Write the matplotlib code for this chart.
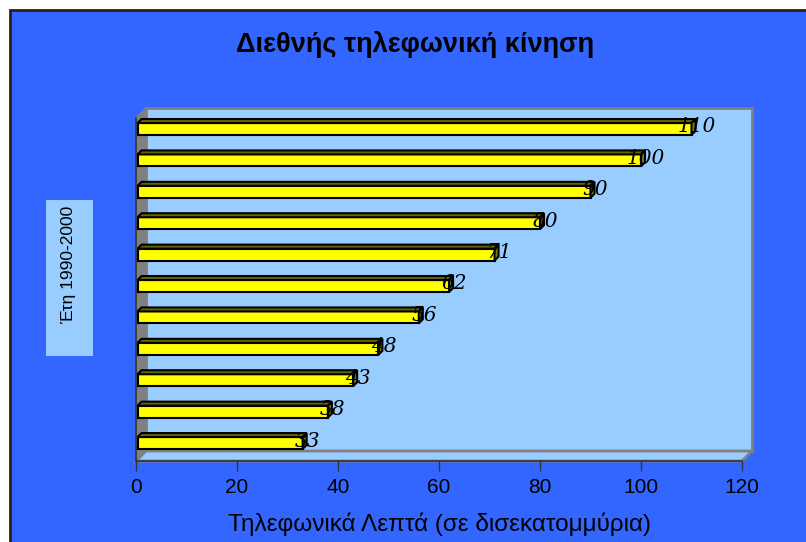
import matplotlib
matplotlib.use("Agg")
import matplotlib.pyplot as plt
from matplotlib.patches import Rectangle, Polygon

years = ["1990", "1991", "1992", "1993", "1994", "1995", "1996", "1997", "1998", "1999", "2000"]
minutes = [33, 38, 43, 48, 56, 62, 71, 80, 90, 100, 110]
xticks = [0, 20, 40, 60, 80, 100, 120]

W, H = 806, 542
DEPTH = 10      # wall depth in pixels
BAR_D = 4       # bar depth in pixels
BAR_H = 0.38    # bar height in category units

blue = "#3366FF"
wall = "#99CCFF"
grey = "#808080"

fig = plt.figure(figsize=(W / 100, H / 100), dpi=100)
fig.patch.set_facecolor("white")

# blue chart area with a dark frame on top and left
fig.patches.append(Rectangle((10 / W, -0.02), 1.1, 1 - 10 / H + 0.02, transform=fig.transFigure,
                             facecolor=blue, edgecolor="#222222", linewidth=2, zorder=-5))

ax = fig.add_axes([136 / W, 1 - 461 / H, 606 / W, 343 / H])
ax.set_facecolor("none")
ax.set_xlim(0, 120)
ax.set_ylim(-0.573, 10.35)


def px(x, y, dx=0, dy=0):
    X, Y = ax.transData.transform((x, y))
    return (X + dx, Y + dy)


def face(pts, fc, ec, lw, z):
    ax.add_patch(Polygon(pts, closed=True, transform=None, facecolor=fc, edgecolor=ec,
                         linewidth=lw, zorder=z, clip_on=False))


y0, y1 = ax.get_ylim()
# back wall, left wall and floor
face([px(0, y0, DEPTH, DEPTH), px(120, y0, DEPTH, DEPTH), px(120, y1, DEPTH, DEPTH), px(0, y1, DEPTH, DEPTH)],
     wall, grey, 2, 1)
face([px(0, y0), px(0, y0, DEPTH, DEPTH), px(0, y1, DEPTH, DEPTH), px(0, y1)], grey, grey, 1, 1.5)
face([px(0, y0), px(120, y0), px(120, y0, DEPTH, DEPTH), px(0, y0, DEPTH, DEPTH)], wall, grey, 2, 1.5)

# 3d bars
for i, v in enumerate(minutes):
    b, t = i - BAR_H / 2, i + BAR_H / 2
    ax.add_patch(Rectangle((0.3, b), v - 0.3, BAR_H, facecolor="#FFFF00", edgecolor="black",
                           linewidth=1.5, zorder=3))
    face([px(0.3, t), px(v, t), px(v, t, BAR_D, BAR_D), px(0.3, t, BAR_D, BAR_D)], "#666600", "black", 1.5, 3)
    face([px(v, b), px(v, b, BAR_D, BAR_D), px(v, t, BAR_D, BAR_D), px(v, t)], "#808000", "black", 1.5, 3)
    X, Y = px(v, i, 5, 2)
    ax.text(X, Y, str(v), transform=None, ha="center", va="center", fontsize=14.5,
            family="DejaVu Serif", style="italic", color="black", zorder=4)

ax.set_xticks(xticks)
ax.set_xticklabels([str(t) for t in xticks], family="Liberation Sans", fontsize=15)
ax.set_yticks([])
ax.tick_params(axis="x", direction="out", length=7, width=1, color="#333333", pad=5)
for s in ["top", "right"]:
    ax.spines[s].set_visible(False)
for s in ["bottom", "left"]:
    ax.spines[s].set_color("#333333")
    ax.spines[s].set_linewidth(1.2)
    ax.spines[s].set_zorder(2)

fig.text(415 / W, 1 - 45 / H, "Διεθνής τηλεφωνική κίνηση", ha="center", va="center",
         family="Liberation Sans", fontsize=19.5, fontweight="bold")
fig.text(439 / W, 1 - 524 / H, "Τηλεφωνικά Λεπτά (σε δισεκατομμύρια)", ha="center", va="center",
         family="Liberation Sans", fontsize=17.5)

# y axis title box
fig.patches.append(Rectangle((46 / W, 1 - 356 / H), 47 / W, 156 / H, transform=fig.transFigure,
                             facecolor=wall, edgecolor="none", zorder=-4))
fig.text(69 / W, 1 - 265 / H, "Έτη 1990-2000", rotation=90, ha="center", va="center",
         family="Liberation Sans", fontsize=12.5)

fig.savefig("out.png", dpi=100)
